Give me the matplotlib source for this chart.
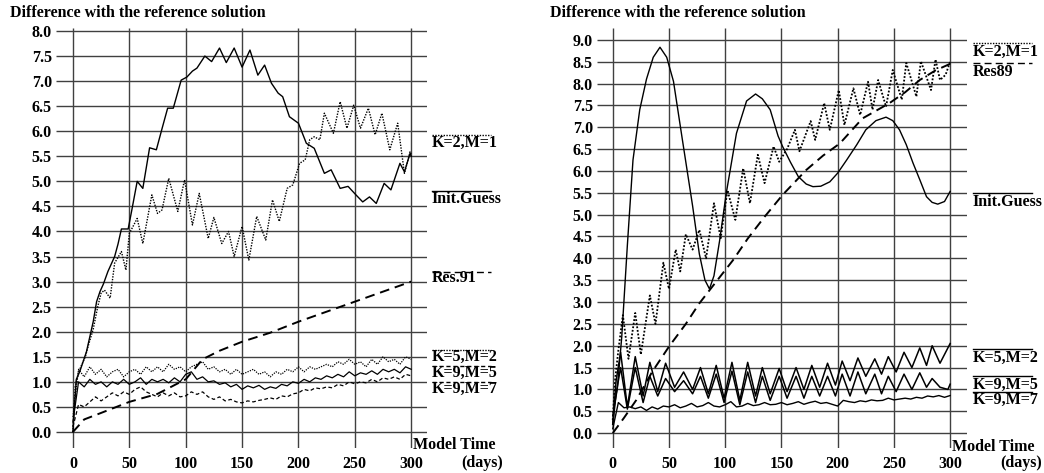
import numpy as np
import matplotlib
matplotlib.use('Agg')
import matplotlib.pyplot as plt

plt.rcParams['font.family'] = ['Liberation Serif', 'DejaVu Serif']
plt.rcParams['font.weight'] = 'bold'

TITLE = 'Difference with the reference solution'
DAYS5 = np.arange(0, 301, 5)  # 5-day sampling used for the noisy curves

# ---- left panel ----
l_init_d = [0, 1, 3, 6, 9, 12, 15, 18, 21, 24, 27, 31, 34, 37, 40, 43, 46, 49, 52, 57,
            62, 68, 74, 79, 84, 89, 96, 101, 106, 110, 117, 123, 130, 136, 143, 150, 157, 164, 170, 176,
            182, 186, 192, 200, 207, 214, 223, 229, 237, 244, 251, 257, 263, 269, 276, 282, 290, 294, 299, 300]
l_init_v = [0.0, 0.4, 1.05, 1.2, 1.4, 1.6, 1.9, 2.2, 2.6, 2.8, 2.95, 3.2, 3.35, 3.5, 3.75, 4.05, 4.05, 4.05, 4.4, 5.0,
            4.86, 5.67, 5.63, 6.05, 6.46, 6.46, 7.02, 7.08, 7.2, 7.26, 7.5, 7.39, 7.66, 7.37, 7.66, 7.28, 7.62, 7.12, 7.32, 6.96,
            6.76, 6.69, 6.29, 6.16, 5.76, 5.66, 5.16, 5.23, 4.86, 4.9, 4.73, 4.59, 4.69, 4.56, 4.96, 4.83, 5.36, 5.19, 5.56, 5.5]

l_k2m1_d = [0, 2, 5, 8, 11, 14, 18, 22, 25, 28, 33, 37, 43, 47, 50, 57, 62, 70, 75, 79,
            85, 93, 99, 106, 112, 120, 125, 132, 138, 143, 150, 156, 163, 171, 177, 183, 190, 195, 201, 206,
            210, 214, 219, 223, 231, 237, 243, 249, 255, 262, 268, 274, 281, 288, 294, 299, 300]
l_k2m1_v = [0.0, 0.9, 1.2, 1.35, 1.5, 1.75, 2.05, 2.5, 2.77, 2.83, 2.67, 3.37, 3.6, 3.23, 3.96, 4.26, 3.76, 4.73, 4.36, 4.43,
            5.06, 4.4, 5.03, 4.13, 4.76, 3.86, 4.28, 3.76, 4.0, 3.5, 4.1, 3.43, 4.3, 3.83, 4.63, 4.2, 4.86, 4.93, 5.36, 5.43,
            5.83, 5.89, 5.83, 6.36, 5.96, 6.59, 6.06, 6.52, 6.06, 6.46, 5.93, 6.36, 5.63, 6.16, 5.16, 5.59, 5.55]

l_res_d = [0, 10, 25, 50, 75, 100, 115, 130, 150, 175, 200, 225, 250, 275, 300]
l_res_v = [0.0, 0.25, 0.38, 0.6, 0.76, 1.05, 1.45, 1.62, 1.8, 1.98, 2.2, 2.4, 2.6, 2.8, 3.0]

l_k5m2 = [0.3, 1.25, 1.1, 1.3, 1.15, 1.25, 1.1, 1.2, 1.25, 1.1,
          1.2, 1.25, 1.15, 1.3, 1.2, 1.3, 1.2, 1.35, 1.25, 1.3,
          1.2, 1.3, 1.35, 1.4, 1.25, 1.3, 1.2, 1.25, 1.15, 1.25,
          1.15, 1.2, 1.25, 1.15, 1.2, 1.1, 1.2, 1.15, 1.25, 1.2,
          1.3, 1.2, 1.3, 1.25, 1.3, 1.35, 1.3, 1.4, 1.35, 1.45,
          1.35, 1.4, 1.3, 1.45, 1.35, 1.5, 1.4, 1.45, 1.35, 1.5,
          1.45]
l_k9m5 = [0.2, 1.0, 0.9, 1.05, 0.95, 1.0, 0.9, 1.0, 0.95, 1.05,
          0.95, 1.0, 1.08, 0.95, 1.05, 1.0, 1.05, 0.98, 1.08, 1.0,
          1.15, 1.2, 1.05, 1.1, 1.0, 1.02, 0.95, 0.98, 0.9, 0.95,
          0.85, 0.92, 0.88, 0.93, 0.85, 0.9, 0.87, 0.95, 0.92, 1.0,
          0.97, 1.05, 1.0, 1.08, 1.05, 1.12, 1.08, 1.15, 1.1, 1.2,
          1.12, 1.18, 1.15, 1.22, 1.15, 1.25, 1.2, 1.25, 1.18, 1.3,
          1.25]
l_k9m7 = [0.1, 0.55, 0.5, 0.6, 0.7, 0.62, 0.7, 0.78, 0.72, 0.8,
          0.75, 0.85, 0.9, 0.8, 0.75, 0.7, 0.78, 0.72, 0.78, 0.7,
          0.72, 0.8, 0.75, 0.8, 0.7, 0.65, 0.7, 0.62, 0.65, 0.6,
          0.58, 0.62, 0.6, 0.63, 0.65, 0.68, 0.65, 0.72, 0.7, 0.76,
          0.78, 0.85, 0.82, 0.88, 0.86, 0.9, 0.88, 0.95, 0.92, 1.0,
          0.96, 1.0, 0.98, 1.05, 1.0, 1.08, 1.05, 1.1, 1.05, 1.15,
          1.12]

# ---- right panel ----
r_init_d = [0, 4, 8, 13, 18, 24, 30, 36, 42, 48, 54, 62, 71, 77, 82, 86, 90, 95, 101, 110,
            119, 127, 133, 140, 147, 151, 158, 165, 172, 178, 185, 193, 200, 208, 217, 225, 234, 243, 249, 255,
            261, 267, 273, 279, 284, 289, 295, 300]
r_init_v = [0.4, 1.0, 2.2, 4.3, 6.25, 7.4, 8.1, 8.6, 8.83, 8.6, 8.05, 6.7, 5.2, 4.1, 3.5, 3.3, 3.6, 4.4, 5.5, 6.86,
            7.6, 7.76, 7.65, 7.4, 6.8, 6.56, 6.2, 5.87, 5.7, 5.64, 5.65, 5.75, 5.95, 6.25, 6.6, 6.94, 7.15, 7.23, 7.15, 6.94,
            6.6, 6.18, 5.8, 5.41, 5.28, 5.24, 5.3, 5.53]

r_k2m1_d = [0, 2, 5, 9, 14, 20, 25, 33, 38, 45, 50, 56, 60, 65, 71, 77, 83, 90, 96, 102,
            109, 116, 122, 129, 135, 143, 148, 155, 162, 166, 176, 180, 188, 193, 201, 206, 214, 220, 227, 231,
            236, 243, 249, 257, 261, 270, 274, 283, 287, 291, 296, 300]
r_k2m1_v = [0.3, 1.2, 1.9, 2.7, 1.7, 2.75, 1.8, 3.15, 2.5, 3.9, 3.3, 4.2, 3.7, 4.55, 4.2, 4.65, 4.0, 5.26, 4.46, 5.56,
            4.88, 6.06, 5.26, 6.37, 5.72, 6.56, 6.21, 6.5, 6.94, 6.45, 7.14, 6.71, 7.55, 6.94, 7.85, 7.05, 7.89, 7.28, 8.04, 7.4,
            8.08, 7.47, 8.31, 7.63, 8.47, 7.7, 8.51, 7.85, 8.55, 8.08, 8.2, 8.5]

r_res_d = [0, 10, 21, 35, 50, 65, 77, 90, 107, 120, 135, 151, 172, 187, 202, 222, 246, 260, 273, 287, 300]
r_res_v = [0.0, 0.35, 0.76, 1.4, 1.98, 2.5, 2.97, 3.4, 3.96, 4.45, 4.95, 5.45, 6.02, 6.35, 6.63, 7.2, 7.55, 7.8, 8.08, 8.3, 8.45]

r_osc_d = [0, 3, 7, 13, 20, 27, 33, 40, 47, 55, 63, 71, 78, 85, 92, 99, 106, 113, 120, 127,
           133, 140, 148, 155, 163, 170, 177, 184, 191, 198, 204, 211, 218, 225, 233, 239, 245, 252, 259, 266,
           273, 279, 284, 291, 298, 300]
r_k5m2 = [0.2, 1.2, 1.85, 0.6, 1.75, 0.85, 1.62, 0.95, 1.6, 1.05, 1.4, 1.0, 1.5, 0.9, 1.55, 0.8, 1.62, 0.75, 1.62, 0.85,
          1.5, 0.9, 1.48, 0.95, 1.5, 1.0, 1.55, 1.05, 1.6, 1.1, 1.65, 1.2, 1.72, 1.3, 1.7, 1.35, 1.75, 1.4, 1.85, 1.5,
          1.95, 1.55, 2.0, 1.6, 1.95, 2.05]
r_k9m5 = [0.2, 0.9, 1.5, 0.55, 1.5, 0.7, 1.3, 0.85, 1.25, 0.95, 1.2, 0.9, 1.3, 0.8, 1.35, 0.7, 1.42, 0.65, 1.4, 0.7,
          1.3, 0.75, 1.3, 0.8, 1.3, 0.8, 1.3, 0.85, 1.3, 0.85, 1.35, 0.85, 1.4, 0.9, 1.35, 0.9, 1.3, 0.95, 1.35, 1.0,
          1.38, 1.05, 1.25, 1.05, 1.0, 1.12]
r_k9m7 = [0.1, 0.7, 0.58, 0.6, 0.56, 0.6, 0.52, 0.6, 0.55, 0.62,
          0.6, 0.65, 0.58, 0.62, 0.68, 0.6, 0.63, 0.7, 0.62, 0.6,
          0.65, 0.72, 0.6, 0.62, 0.68, 0.63, 0.65, 0.7, 0.65, 0.66,
          0.7, 0.65, 0.68, 0.72, 0.66, 0.7, 0.73, 0.68, 0.7, 0.66,
          0.62, 0.75, 0.72, 0.7, 0.74, 0.72, 0.76, 0.74, 0.75, 0.8,
          0.76, 0.78, 0.8, 0.78, 0.82, 0.8, 0.85, 0.83, 0.86, 0.82,
          0.86]

DOT = (0, (1, 1))
DASH = (0, (5, 3))
SDASH = (0, (3, 2))
FS = 11.5


def setup_axes(ax, xlim, ylim, ymax_tick):
    ax.set_xlim(xlim)
    ax.set_ylim(ylim)
    for s in ax.spines.values():
        s.set_visible(False)
    yt = np.arange(0, ymax_tick + 0.01, 0.5)
    xt = np.arange(0, 301, 50)
    ax.hlines(yt, xlim[0], xlim[1], color='0.25', lw=1.0, zorder=1)
    ax.vlines(xt, ylim[0], ylim[1], color='0.25', lw=1.0, zorder=1)
    ax.set_yticks(yt, ['%.1f' % v for v in yt])
    ax.set_xticks(xt, [str(v) for v in xt])
    ax.tick_params(length=0, labelsize=FS)
    ax.tick_params(axis='y', pad=3)
    ax.tick_params(axis='x', pad=6)
    for lab in ax.get_xticklabels() + ax.get_yticklabels():
        lab.set_fontweight('bold')


def label(ax, x0, x1, yline, ytext, text, ls, lw=1.0):
    ax.plot([x0, x1], [yline, yline], color='black', ls=ls, lw=lw, clip_on=False)
    ax.text(x0, ytext, text, fontsize=FS, fontweight='bold', va='center', ha='left', clip_on=False)


fig = plt.figure(figsize=(10.44, 4.73), dpi=100)
axl = fig.add_axes([56 / 1044, 25 / 473, 371 / 1044, 420 / 473])
axr = fig.add_axes([597 / 1044, 25 / 473, 370 / 1044, 420 / 473])

# left
setup_axes(axl, (-15, 314), (-0.32, 8.06), 8.0)
axl.plot(l_init_d, l_init_v, color='black', lw=1.0)
axl.plot(l_k2m1_d, l_k2m1_v, color='black', lw=1.0, ls=DOT)
axl.plot(l_res_d, l_res_v, color='black', lw=1.4, ls=DASH)
axl.plot(DAYS5, l_k5m2, color='black', lw=0.9, ls=DOT)
axl.plot(DAYS5, l_k9m5, color='black', lw=0.9)
axl.plot(DAYS5, l_k9m7, color='black', lw=0.9, ls=SDASH)
label(axl, 318, 371, 5.93, 5.77, 'K=2,M=1', DOT)
label(axl, 318, 371, 4.81, 4.65, 'Init.Guess', '-')
label(axl, 318, 371, 3.19, 3.07, 'Res.91', DASH)
label(axl, 318, 371, 1.64, 1.50, 'K=5,M=2', DOT)
label(axl, 318, 371, 1.32, 1.18, 'K=9,M=5', SDASH)
label(axl, 318, 371, 1.00, 0.86, 'K=9,M=7', SDASH)
axl.text(302, -0.26, 'Model Time', fontsize=FS, fontweight='bold', va='center', ha='left', clip_on=False)
axl.text(381, -0.62, '(days)', fontsize=FS, fontweight='bold', va='center', ha='right', clip_on=False)

# right
setup_axes(axr, (-14, 315), (-0.34, 9.27), 9.0)
axr.plot(r_init_d, r_init_v, color='black', lw=1.0)
axr.plot(r_k2m1_d, r_k2m1_v, color='black', lw=1.3, ls=DOT)
axr.plot(r_res_d, r_res_v, color='black', lw=1.4, ls=DASH)
axr.plot(r_osc_d, r_k5m2, color='black', lw=1.1)
axr.plot(r_osc_d, r_k9m5, color='black', lw=1.1)
axr.plot(DAYS5, r_k9m7, color='black', lw=1.0)
label(axr, 320, 373, 8.93, 8.72, 'K=2,M=1', DOT)
label(axr, 320, 373, 8.47, 8.27, 'Res89', DASH)
label(axr, 320, 373, 5.50, 5.29, 'Init.Guess', '-')
label(axr, 320, 373, 1.92, 1.72, 'K=5,M=2', '-')
label(axr, 320, 373, 1.31, 1.10, 'K=9,M=5', '-')
label(axr, 320, 373, 0.94, 0.76, 'K=9,M=7', '-')
axr.text(302, -0.32, 'Model Time', fontsize=FS, fontweight='bold', va='center', ha='left', clip_on=False)
axr.text(382, -0.69, '(days)', fontsize=FS, fontweight='bold', va='center', ha='right', clip_on=False)

fig.text(10 / 1044, 1 - 13 / 473, TITLE, fontsize=11.5, fontweight='bold', va='center', ha='left')
fig.text(550 / 1044, 1 - 13 / 473, TITLE, fontsize=11.5, fontweight='bold', va='center', ha='left')

fig.savefig('out.png', dpi=100)
